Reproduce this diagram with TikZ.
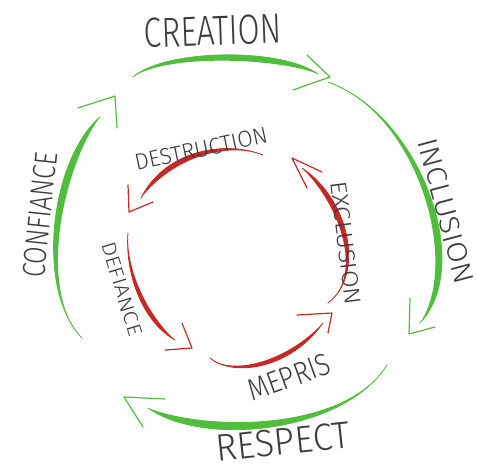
\documentclass[tikz,border=0pt]{standalone}
\usepackage{fontspec}
\newfontfamily\hand{Fira Sans Light}
\usetikzlibrary{calc}
\definecolor{leaf}{RGB}{80,190,60}
\definecolor{ember}{RGB}{200,40,35}
\definecolor{pencil}{RGB}{60,60,60}

% tapered brush stroke: colour, start, control 1, control 2, end,
% bulge at control 1, bulge at control 2, point the bulge leans towards
\newcommand\brushstroke[8]{%
  \fill[#1] (#2) .. controls (#3) and (#4) .. (#5)
    .. controls ($(#4)!#7!(#8)$) and ($(#3)!#6!(#8)$) .. (#2);
  \draw[#1, line width=0.8pt, line cap=round] (#2) .. controls (#3) and (#4) .. (#5);
}
% word squeezed horizontally: size, x-scale, text
\newcommand\handword[3]{{\hand\fontsize{#1}{#1}\selectfont\scalebox{#2}[1]{#3}}}

\begin{document}
\begin{tikzpicture}[x=1pt,y=-1pt,
  word/.style={text=pencil, inner sep=0pt},
  tiplines/.style={line width=1.2pt, line cap=round, line join=round}]
\useasboundingbox (0,0) rectangle (478,472);

\coordinate (og) at (245,242);
\coordinate (ig) at (240,258);

% ---- outer, virtuous cycle (clockwise) ----
\coordinate (cr-s) at (133,77);  \coordinate (cr-e) at (318,74);
\coordinate (in-s) at (328,82);  \coordinate (in-e) at (420,323);
\coordinate (re-s) at (387,365); \coordinate (re-e) at (148,408);
\coordinate (co-s) at (82,338);  \coordinate (co-e) at (100,117);

\brushstroke{leaf}{cr-s}{165,49}{280,47}{cr-e}{5pt}{11pt}{og}
\brushstroke{leaf}{in-s}{420,115}{475,265}{in-e}{1pt}{15pt}{og}
\brushstroke{leaf}{re-s}{345,432}{205,448}{re-e}{1pt}{17pt}{og}
\brushstroke{leaf}{co-s}{35,290}{50,160}{co-e}{1pt}{15pt}{og}

\coordinate (cr-t) at (330,77);
\coordinate (in-t) at (409,334);
\coordinate (re-t) at (124,397);
\coordinate (co-t) at (115,96);
\draw[tiplines, leaf] (307,55) -- (cr-t) -- (293,90);
\draw[tiplines, leaf] (410,298) -- (in-t) -- (435,327);
\draw[tiplines, leaf] (165,399) -- (re-t) -- (143,427);
\draw[tiplines, leaf] (78,108) -- (co-t) -- (117,128);

% ---- inner, vicious cycle (counter-clockwise) ----
\coordinate (de-s) at (263,155); \coordinate (de-e) at (141,198);
\coordinate (df-s) at (128,233); \coordinate (df-e) at (175,340);
\coordinate (me-s) at (210,358); \coordinate (me-e) at (323,323);
\coordinate (ex-s) at (328,303); \coordinate (ex-e) at (302,168);

\brushstroke{ember}{de-s}{225,140}{165,150}{de-e}{1pt}{11pt}{ig}
\brushstroke{ember}{df-s}{125,270}{140,320}{df-e}{1pt}{9pt}{ig}
\brushstroke{ember}{me-s}{232,377}{290,370}{me-e}{1pt}{9pt}{ig}
\brushstroke{ember}{ex-s}{365,275}{350,200}{ex-e}{1pt}{11pt}{ig}

\coordinate (de-t) at (129,212);
\coordinate (df-t) at (192,348);
\coordinate (me-t) at (332,313);
\coordinate (ex-t) at (292,158);
\draw[tiplines, ember] (128,185) -- (de-t) -- (153,202);
\draw[tiplines, ember] (182,323) -- (df-t) -- (165,350);
\draw[tiplines, ember] (297,315) -- (me-t) -- (328,333);
\draw[tiplines, ember] (307,188) -- (ex-t) -- (322,172);

% ---- labels ----
\node[word, rotate=2]   (creation)    at (213,31)  {\handword{42}{.76}{CREATION}};
\node[word, rotate=-75] (inclusion)   at (446,211) {\handword{28}{1.12}{INCLUSION}};
\node[word, rotate=6]   (respect)     at (283,442) {\handword{38}{.94}{RESPECT}};
\node[word, rotate=84]  (confiance)   at (40,215)  {\handword{32}{.79}{CONFIANCE}};
\node[word, rotate=12]  (destruction) at (201,149) {\handword{23}{.97}{DESTRUCTION}};
\node[word, rotate=-73] (defiance)    at (122,289) {\handword{20}{1.15}{DEFIANCE}};
\node[word, rotate=20]  (mepris)      at (289,377) {\handword{31}{.85}{MEPRIS}};
\node[word, rotate=-83] (exclusion)   at (346,243) {\handword{23}{1.12}{EXCLUSION}};
\end{tikzpicture}
\end{document}
